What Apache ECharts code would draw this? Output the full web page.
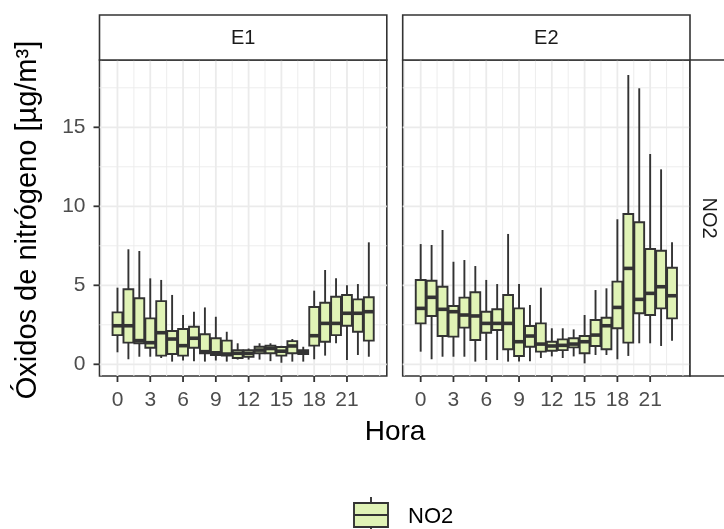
<!DOCTYPE html>
<html>
<head>
<meta charset="utf-8">
<script src="https://cdn.jsdelivr.net/npm/echarts@6/dist/echarts.min.js"></script>
<style>
  html, body { margin: 0; padding: 0; background: #ffffff; }
  #chart { width: 724px; height: 529px; }
</style>
</head>
<body>
<div id="chart"></div>
<script>
// Hourly NO2 distribution (whisker low, Q1, median, Q3, whisker high) at two stations
const hours = [0, 1, 2, 3, 4, 5, 6, 7, 8, 9, 10, 11, 12, 13, 14, 15, 16, 17, 18, 19, 20, 21, 22, 23];

const e1Low  = [0.76, 0.32, 0.48, 0.48, 0.40, 0.17, 0.24, 0.20, 0.17, 0.24, 0.17, 0.30, 0.30, 0.30, 0.20, 0.10, 0.17, 0.17, 0.32, 0.55, 1.33, 0.27, 0.59, 0.48];
const e1Q1   = [1.85, 1.37, 1.33, 1.05, 0.55, 0.65, 0.55, 1.05, 0.70, 0.59, 0.55, 0.40, 0.48, 0.70, 0.70, 0.55, 0.70, 0.65, 1.18, 1.43, 1.85, 2.44, 2.06, 1.50];
const e1Med  = [2.44, 2.44, 1.50, 1.37, 2.00, 1.60, 1.18, 1.65, 0.80, 0.73, 0.65, 0.70, 0.70, 0.90, 1.00, 0.83, 1.16, 0.75, 1.81, 2.59, 2.59, 3.23, 3.23, 3.33];
const e1Q3   = [3.29, 4.75, 4.18, 2.91, 4.00, 2.11, 2.23, 2.38, 1.90, 1.65, 1.50, 0.90, 0.90, 1.11, 1.17, 1.10, 1.47, 0.90, 3.63, 3.90, 4.28, 4.39, 4.11, 4.24];
const e1High = [4.85, 7.28, 7.17, 5.44, 5.34, 4.39, 3.12, 3.33, 3.60, 3.01, 2.06, 1.33, 1.00, 1.33, 1.33, 1.17, 1.60, 1.11, 4.66, 5.97, 5.44, 5.00, 5.08, 7.72];

const e2Low  = [0.80, 0.32, 0.48, 0.48, 0.48, 0.17, 0.27, 0.27, 0.17, 0.17, 0.20, 0.40, 0.50, 0.40, 0.50, 0.06, 0.59, 0.59, 0.32, 0.53, 1.33, 1.33, 1.16, 1.49];
const e2Q1   = [2.59, 3.06, 1.79, 1.75, 2.32, 1.54, 2.00, 2.17, 0.95, 0.53, 1.11, 0.80, 0.86, 0.90, 1.07, 0.70, 1.16, 0.95, 2.28, 1.37, 3.23, 3.12, 3.54, 2.91];
const e2Med  = [3.54, 4.24, 3.48, 3.33, 3.12, 3.06, 2.59, 2.59, 2.59, 1.43, 1.79, 1.28, 1.16, 1.20, 1.28, 1.43, 1.85, 2.44, 3.60, 6.07, 4.11, 4.49, 4.91, 4.34];
const e2Q3   = [5.34, 5.29, 4.91, 3.69, 4.22, 4.56, 3.33, 3.48, 4.39, 3.54, 2.42, 2.59, 1.43, 1.58, 1.65, 1.79, 2.80, 2.95, 5.23, 9.51, 8.99, 7.30, 7.19, 6.11];
const e2High = [7.61, 7.55, 8.50, 6.49, 6.60, 6.22, 5.34, 5.08, 8.25, 5.08, 3.75, 4.85, 2.28, 2.28, 2.21, 3.12, 4.70, 4.81, 9.18, 18.31, 17.47, 13.31, 12.34, 7.72];

const panelNames = ['E1', 'E2'];
const rowName = 'NO2';
const xTicks = [0, 3, 6, 9, 12, 15, 18, 21];
const xMinor = [-1.5, 1.5, 4.5, 7.5, 10.5, 13.5, 16.5, 19.5, 22.5, 24];
const yTicks = [0, 5, 10, 15];
const yMinor = [2.5, 7.5, 12.5, 17.5];

const FONT = '"Liberation Sans", Arial, sans-serif';
const FILL = '#e0f3b6';
const INK = '#333333';

function boxRows(low, q1, med, q3, high) {
  return hours.map((h, i) => [h, low[i], q1[i], med[i], q3[i], high[i]]);
}
// kind: 0 vertical grid line, 1 horizontal grid line, 2 x tick mark, 3 y tick mark
function guideRows(withYTicks) {
  let rows = []
    .concat(xTicks.map(v => [v, 0, 1]))
    .concat(xMinor.map(v => [v, 0, 0]))
    .concat(yTicks.map(v => [v, 1, 1]))
    .concat(yMinor.map(v => [v, 1, 0]))
    .concat(xTicks.map(v => [v, 2, 1]));
  if (withYTicks) rows = rows.concat(yTicks.map(v => [v, 3, 1]));
  return rows;
}

function renderGuide(params, api) {
  const cs = params.coordSys;
  const v = api.value(0), kind = api.value(1), major = api.value(2);
  const TICK = 6;
  if (kind === 0) {
    const x = api.coord([v, 0])[0];
    return { type: 'line', silent: true, shape: { x1: x, y1: cs.y, x2: x, y2: cs.y + cs.height },
      style: { stroke: '#ebebeb', lineWidth: major ? 1.8 : 0.9 } };
  }
  if (kind === 1) {
    const y = api.coord([0, v])[1];
    return { type: 'line', silent: true, shape: { x1: cs.x, y1: y, x2: cs.x + cs.width, y2: y },
      style: { stroke: '#ebebeb', lineWidth: major ? 1.8 : 0.9 } };
  }
  if (kind === 2) {
    const x = api.coord([v, 0])[0];
    const y0 = cs.y + cs.height;
    return { type: 'line', silent: true, z2: 50, shape: { x1: x, y1: y0, x2: x, y2: y0 + TICK },
      style: { stroke: INK, lineWidth: 1.8 } };
  }
  const y = api.coord([0, v])[1];
  return { type: 'line', silent: true, z2: 50, shape: { x1: cs.x - TICK, y1: y, x2: cs.x, y2: y },
    style: { stroke: INK, lineWidth: 1.8 } };
}

function renderBox(params, api) {
  const x = api.value(0);
  const lo = api.coord([x, api.value(1)]);
  const q1 = api.coord([x, api.value(2)]);
  const md = api.coord([x, api.value(3)]);
  const q3 = api.coord([x, api.value(4)]);
  const hi = api.coord([x, api.value(5)]);
  const w = api.size([0.9, 0])[0];
  const cx = lo[0];
  const line = { stroke: INK, lineWidth: 1.9 };
  return { type: 'group', children: [
    { type: 'line', shape: { x1: cx, y1: hi[1], x2: cx, y2: q3[1] }, style: line },
    { type: 'line', shape: { x1: cx, y1: q1[1], x2: cx, y2: lo[1] }, style: line },
    { type: 'rect', shape: { x: cx - w / 2, y: q3[1], width: w, height: q1[1] - q3[1] },
      style: { fill: FILL, stroke: INK, lineWidth: 1.9 } },
    { type: 'line', shape: { x1: cx - w / 2, y1: md[1], x2: cx + w / 2, y2: md[1] },
      style: { stroke: INK, lineWidth: 3.6 } }
  ]};
}

function xAxisFor(idx) {
  return {
    type: 'value', gridIndex: idx, min: -1.645, max: 24.645,
    axisLine: { show: false },
    axisTick: { show: false },
    axisLabel: { show: true, customValues: xTicks, color: '#4d4d4d', fontSize: 21, fontFamily: FONT, margin: 14 },
    splitLine: { show: false }
  };
}
function yAxisFor(idx) {
  return {
    type: 'value', gridIndex: idx, min: -0.74, max: 19.26,
    axisLine: { show: false },
    axisTick: { show: false },
    axisLabel: { show: idx === 0, customValues: yTicks, color: '#4d4d4d', fontSize: 21, fontFamily: FONT, margin: 14 },
    splitLine: { show: false }
  };
}

const panelLeft = [99.5, 402.7];
const panelWidth = 287.3;
const panelTop = 60, panelHeight = 316;

const chart = echarts.init(document.getElementById('chart'), null, { renderer: 'canvas' });

const graphics = [];
panelNames.forEach((name, i) => {
  graphics.push({ type: 'rect', shape: { x: panelLeft[i], y: 15, width: panelWidth, height: panelTop - 15 },
    style: { fill: '#ffffff', stroke: INK, lineWidth: 1.6 }, z: 10 });
  graphics.push({ type: 'text', x: panelLeft[i] + panelWidth / 2, y: 38, z: 11,
    style: { text: name, fill: '#1a1a1a', font: '20px ' + FONT, align: 'center', verticalAlign: 'middle' } });
});
graphics.push({ type: 'rect', shape: { x: 690, y: panelTop, width: 60, height: panelHeight },
  style: { fill: '#ffffff', stroke: INK, lineWidth: 1.6 }, z: 10 });
graphics.push({ type: 'text', x: 709, y: panelTop + panelHeight / 2, rotation: -Math.PI / 2, z: 11,
  style: { text: rowName, fill: '#1a1a1a', font: '20px ' + FONT, align: 'center', verticalAlign: 'middle' } });
// axis titles
graphics.push({ type: 'text', x: 395, y: 432, z: 11,
  style: { text: 'Hora', fill: '#000000', font: '28px ' + FONT, align: 'center', verticalAlign: 'middle' } });
graphics.push({ type: 'text', x: 28, y: panelTop + panelHeight / 2 + 2, rotation: Math.PI / 2, z: 11,
  style: { text: 'Óxidos de nitrógeno [µg/m³]', fill: '#000000', font: '29px ' + FONT, align: 'center', verticalAlign: 'middle' } });
// legend key
graphics.push({ type: 'line', shape: { x1: 371, y1: 497, x2: 371, y2: 529 }, style: { stroke: INK, lineWidth: 1.9 }, z: 11 });
graphics.push({ type: 'rect', shape: { x: 354, y: 503, width: 34, height: 24 }, style: { fill: FILL, stroke: INK, lineWidth: 1.9 }, z: 12 });
graphics.push({ type: 'line', shape: { x1: 354, y1: 515, x2: 388, y2: 515 }, style: { stroke: INK, lineWidth: 1.9 }, z: 13 });
graphics.push({ type: 'text', x: 408, y: 517, z: 11,
  style: { text: rowName, fill: '#000000', font: '22px ' + FONT, align: 'left', verticalAlign: 'middle' } });

chart.setOption({
  animation: false,
  backgroundColor: '#ffffff',
  grid: panelNames.map((n, i) => ({
    left: panelLeft[i], top: panelTop, width: panelWidth, height: panelHeight,
    show: true, borderColor: INK, borderWidth: 1.6, backgroundColor: '#ffffff'
  })),
  xAxis: [xAxisFor(0), xAxisFor(1)],
  yAxis: [yAxisFor(0), yAxisFor(1)],
  series: [
    { type: 'custom', name: 'guide-E1', xAxisIndex: 0, yAxisIndex: 0, data: guideRows(true), renderItem: renderGuide, silent: true, clip: false, z: 1, encode: { x: 0, y: 0 } },
    { type: 'custom', name: 'guide-E2', xAxisIndex: 1, yAxisIndex: 1, data: guideRows(false), renderItem: renderGuide, silent: true, clip: false, z: 1, encode: { x: 0, y: 0 } },
    { type: 'custom', name: 'NO2', xAxisIndex: 0, yAxisIndex: 0, data: boxRows(e1Low, e1Q1, e1Med, e1Q3, e1High), renderItem: renderBox, z: 5, encode: { x: 0, y: [1, 2, 3, 4, 5] } },
    { type: 'custom', name: 'NO2', xAxisIndex: 1, yAxisIndex: 1, data: boxRows(e2Low, e2Q1, e2Med, e2Q3, e2High), renderItem: renderBox, z: 5, encode: { x: 0, y: [1, 2, 3, 4, 5] } }
  ],
  graphic: graphics
});
</script>
</body>
</html>
